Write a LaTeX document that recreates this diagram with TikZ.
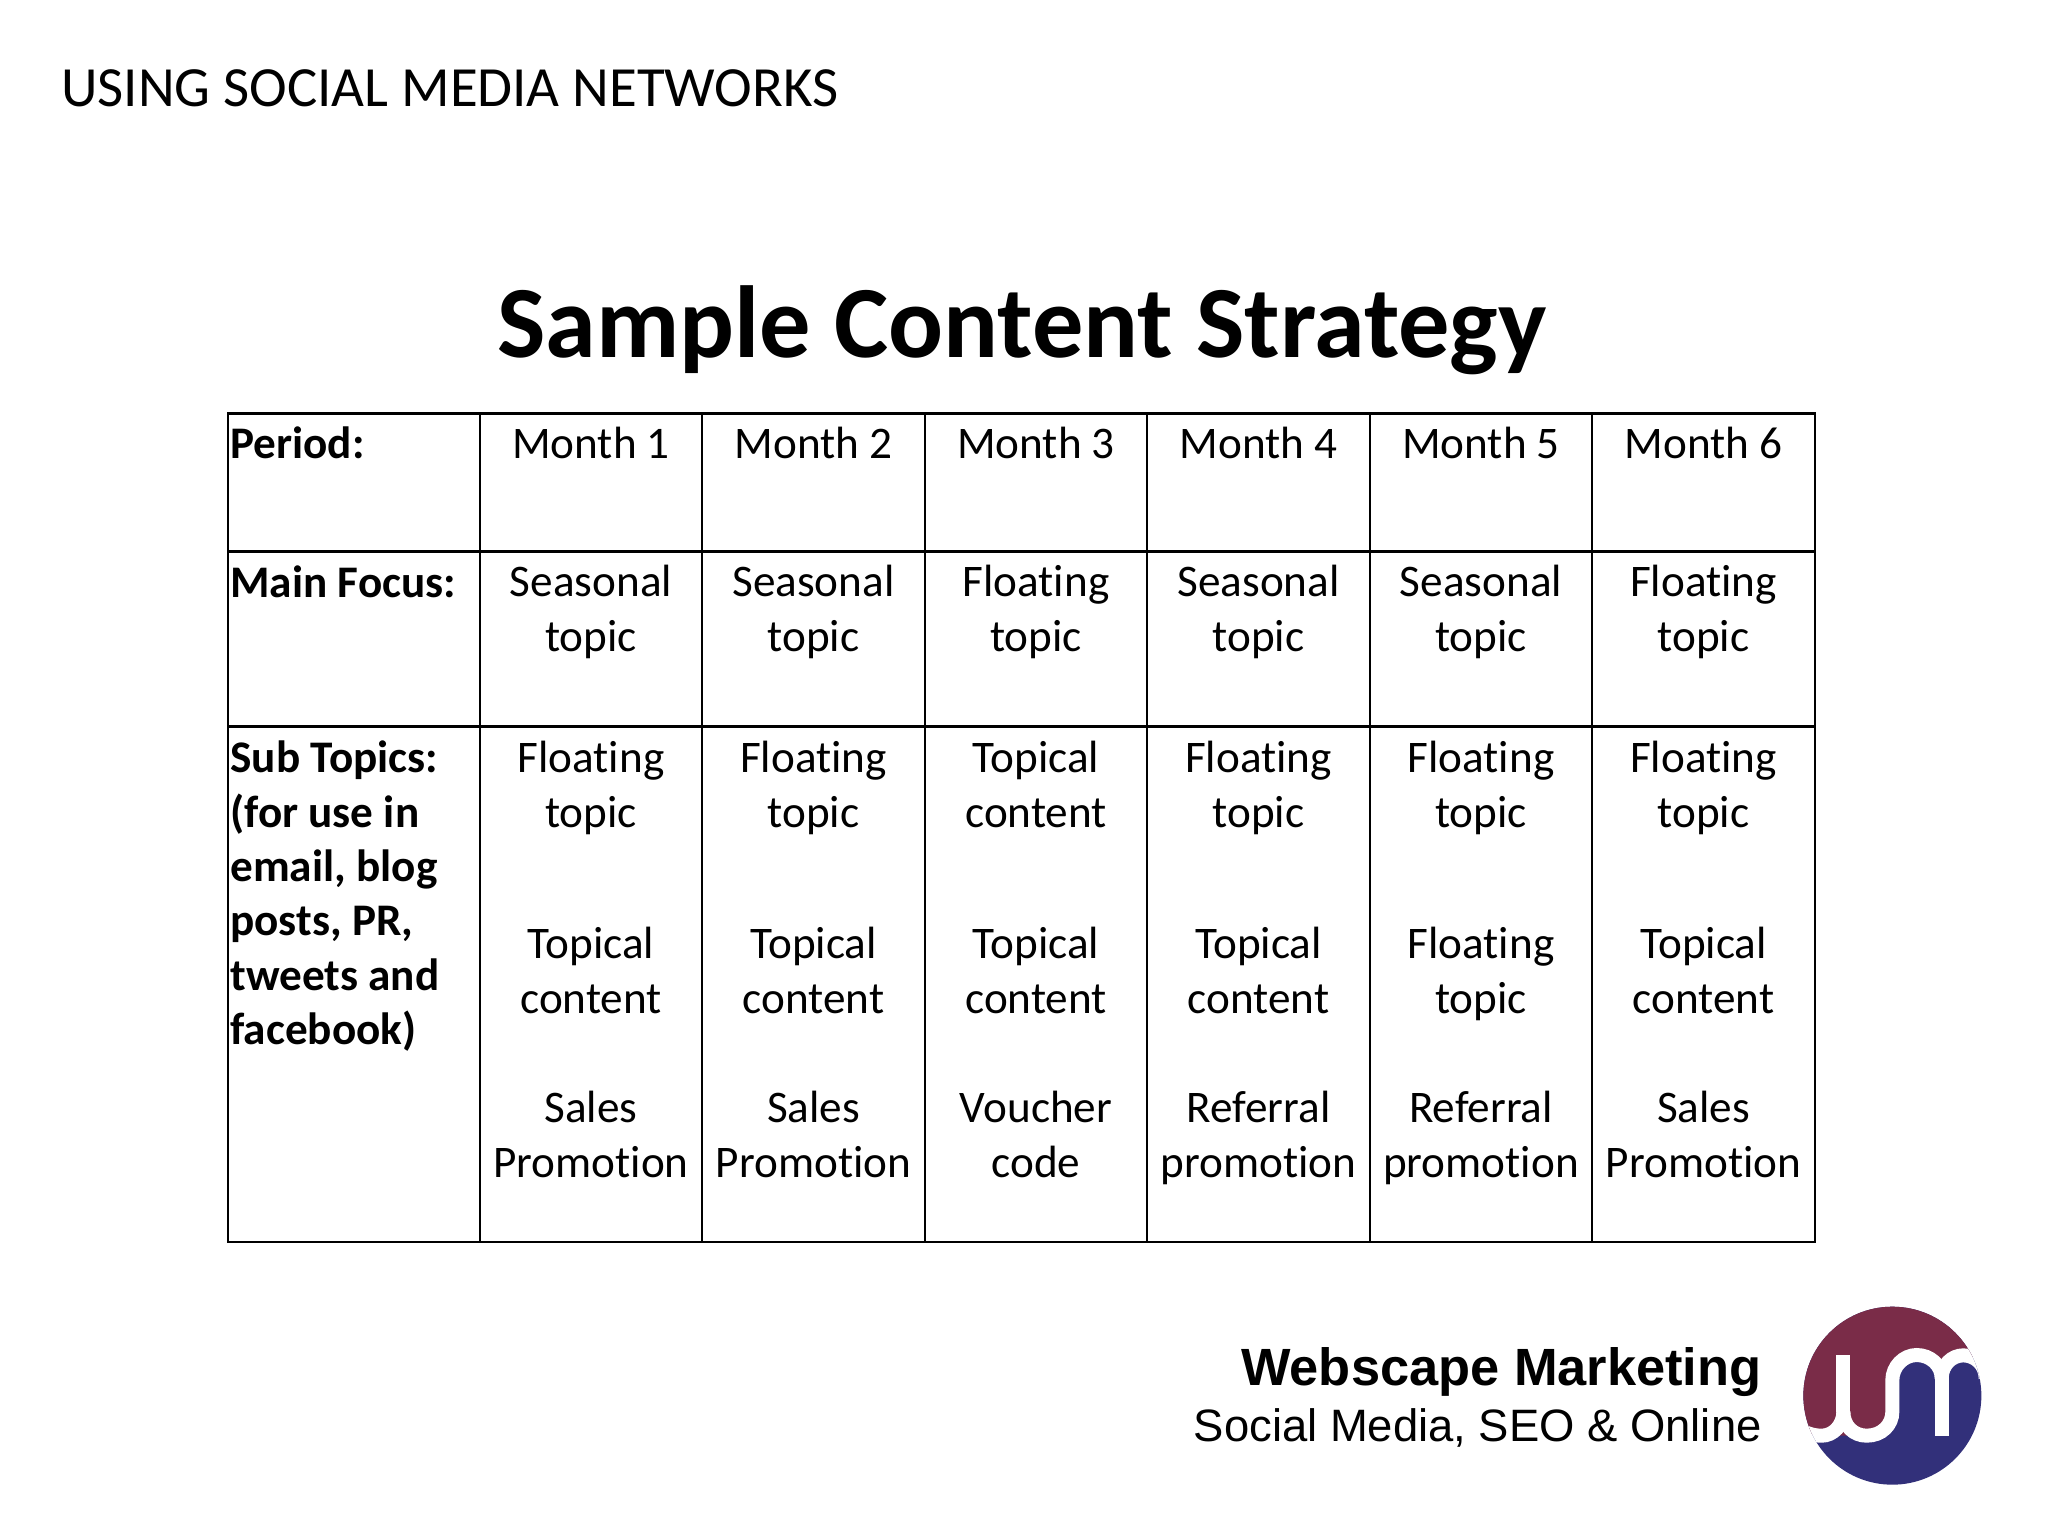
\documentclass[tikz,border=0pt]{standalone}
\usepackage{fontspec}
\setmainfont{Carlito}[Ligatures=NoCommon]
\newfontfamily\footfont{Liberation Sans}
\definecolor{logored}{RGB}{122,44,72}
\definecolor{logoblue}{RGB}{50,48,122}
\tikzset{
  grid/.style={line width=1.4pt,black},
  cell/.style={anchor=north,align=center,inner sep=0pt,font=\fontsize{22.6}{27.4}\selectfont,execute at begin node=\strut},
  rowhead/.style={anchor=north west,align=left,inner sep=0pt,font=\fontsize{22.6}{27.2}\selectfont\bfseries,execute at begin node=\strut},
  logoline/.style={draw=white,line width=7pt,line cap=butt}
}
\begin{document}
\begin{tikzpicture}[x=0.5pt,y=-0.5pt]
    \useasboundingbox (0,0) rectangle (2048,1536);

    \node[anchor=base west,inner sep=0pt,font=\fontsize{28.4}{34}\selectfont] (H) at (61,106) {USING SOCIAL MEDIA NETWORKS};
    \node[anchor=base,inner sep=0pt,font=\fontsize{51.2}{60}\selectfont\bfseries] (T) at (1022,357.5) {Sample Content Strategy};

    % table
    \coordinate (TL) at (228,413.5);
    \coordinate (BR) at (1815,1242);
    \draw[grid] (TL) rectangle (BR);
    \foreach \x in {480,702,925,1147,1370,1592}
        \draw[grid] (\x,413.5) -- (\x,1242);
    \foreach \y in {551.5,726.5}
        \draw[grid] (228,\y) -- (1815,\y);

    \node[rowhead] (P) at (230,420) {Period:};
    \node[rowhead] (F) at (230,559) {Main Focus:};
    \node[rowhead] (S) at (230,740.5) {Sub Topics:\\(for use in\\email, blog\\posts, PR,\\tweets and\\facebook)};

    \foreach \i/\x/\a/\b/\c/\d/\e in {
        1/591/Month 1/Seasonal\\topic/Floating\\topic/Topical\\content/Sales\\Promotion,
        2/813.5/Month 2/Seasonal\\topic/Floating\\topic/Topical\\content/Sales\\Promotion,
        3/1036/Month 3/Floating\\topic/Topical\\content/Topical\\content/Voucher\\code,
        4/1258.5/Month 4/Seasonal\\topic/Floating\\topic/Topical\\content/Referral\\promotion,
        5/1481/Month 5/Seasonal\\topic/Floating\\topic/Floating\\topic/Referral\\promotion,
        6/1703.5/Month 6/Floating\\topic/Floating\\topic/Topical\\content/Sales\\Promotion}
    {
        \node[cell] (M\i) at (\x,420) {\a};
        \node[cell] (A\i) at (\x,564.5) {\b};
        \node[cell] (B\i) at (\x,740.5) {\c};
        \node[cell] (C\i) at (\x,926.5) {\d};
        \node[cell] (D\i) at (\x,1090.5) {\e};
    }

    % footer
    \node[anchor=base east,inner sep=0pt,font=\footfont\fontsize{26.2}{30}\selectfont\bfseries] (W) at (1762,1385) {Webscape Marketing};
    \node[anchor=base east,inner sep=0pt,font=\footfont\fontsize{22.7}{28}\selectfont] (O) at (1762,1441) {Social Media, SEO \& Online};

    % logo
    \begin{scope}[shift={(1750,1280)},x=0.16667pt,y=-0.16667pt]
        \coordinate (L) at (427,347);
        \clip (L) circle (44.5pt);
        \fill[logoblue] (100,0) rectangle (800,700);
        \fill[logored] (100,445) -- (140,445) .. controls (170,460) and (190,467) .. (215,467)
            -- (350,467) .. controls (395,467) and (427,435) .. (427,395) -- (427,300)
            .. controls (427,260) and (460,225) .. (500,225) .. controls (540,225) and (575,255) .. (575,295)
            .. controls (575,255) and (605,226) .. (640,226) .. controls (675,226) and (707,255) .. (707,295)
            -- (800,295) -- (800,0) -- (100,0) -- cycle;
        \draw[logoline] (280,395) .. controls (280,435) and (250,467) .. (215,467)
            .. controls (190,467) and (170,460) .. (140,445);
        \draw[logoline] (280,395) .. controls (280,437) and (310,467) .. (350,467)
            .. controls (395,467) and (427,435) .. (427,395) -- (427,300)
            .. controls (427,260) and (460,225) .. (500,225) .. controls (540,225) and (575,255) .. (575,295);
        \draw[logoline] (575,295) .. controls (575,255) and (605,226) .. (640,226)
            .. controls (675,226) and (707,255) .. (707,295);
        \draw[logoline] (280,225) -- (280,395);
        \draw[logoline] (575,295) -- (575,467);
    \end{scope}
\end{tikzpicture}
\end{document}
